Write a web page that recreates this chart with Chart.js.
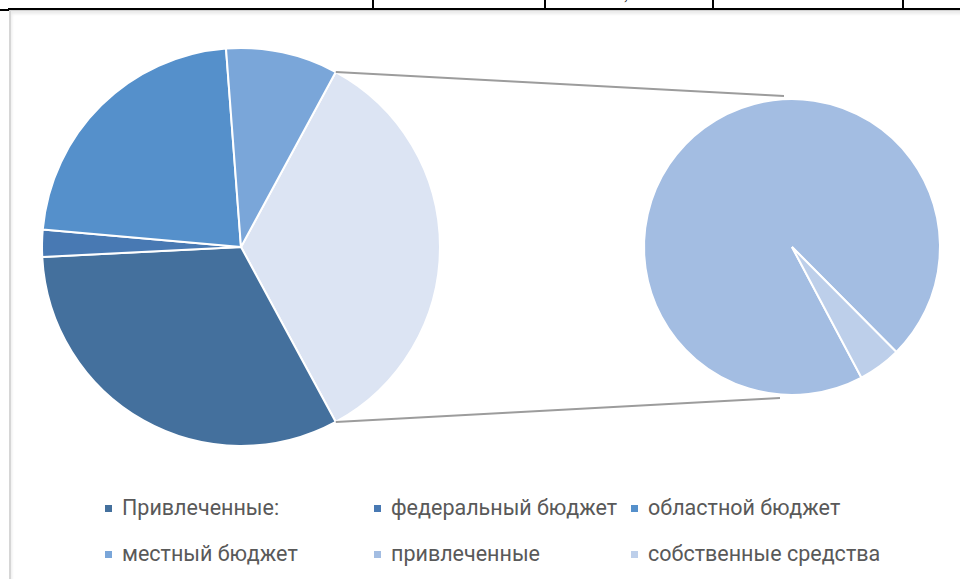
<!DOCTYPE html>
<html>
<head>
<meta charset="utf-8">
<script src="https://cdn.jsdelivr.net/npm/chart.js@4"></script>
<style>
  body { margin: 0; width: 960px; height: 579px; background: #fff; overflow: hidden; position: relative; font-family: Roboto, sans-serif; }
  .hline { position: absolute; left: 8px; top: 8px; width: 952px; height: 2px; background: #000; }
  .hline-left { position: absolute; left: 0; top: 9px; width: 9px; height: 2px; background: #000; }
  .vline { position: absolute; top: 0; width: 2px; height: 9px; background: #000; }
  .cellText { position: absolute; left: 624px; top: -14px; font-family: "Liberation Serif", serif; font-size: 16px; color: #000; }
  .frame { position: absolute; left: 9px; top: 10px; width: 970px; height: 600px; border-left: 2px solid #d6d6d6; border-top: 1px solid #d2d2d2; box-shadow: inset 1px 3px 3px rgba(0,0,0,0.08); }
  #wrap { position: absolute; left: 0; top: 0; width: 960px; height: 480px; }
  #wrap canvas { position: absolute; left: 0; top: 0; }
  #legend { position: absolute; left: 0; top: 0; }
  .item { position: absolute; font-size: 21.5px; color: #595959; white-space: nowrap; line-height: 26px; }
  .item span.box { display: inline-block; width: 7px; height: 7px; margin-right: 10px; vertical-align: middle; position: relative; top: -1px; }
</style>
</head>
<body>
<div class="hline-left"></div>
<div class="hline"></div>
<div class="vline" style="left:372px"></div>
<div class="vline" style="left:544px"></div>
<div class="vline" style="left:712px"></div>
<div class="vline" style="left:902px"></div>
<div class="cellText">,</div>
<div class="frame"></div>
<div id="wrap">
  <canvas id="mainPie" width="960" height="480"></canvas>
  <canvas id="subPie" width="960" height="480"></canvas>
</div>
<div id="legend"></div>

<script>
// données (en %)
const mainLabels = ['Привлеченные:', 'федеральный бюджет', 'областной бюджет', 'местный бюджет'];
const mainValues = [32.1, 2.2, 22.4, 9.1];
const mainColors = ['#44709d', '#4879b3', '#5590cb', '#7aa6d9'];

const subLabels = ['привлеченные', 'собственные средства'];
const subValues = [32.6, 1.6];
const subColors = ['#a3bde2', '#bdcfea'];

const otherColor = '#dce4f3';

// part "autre" = somme du second camembert
let otherValue = subValues.reduce(function(a, b){ return a + b; }, 0);
let total = otherValue + mainValues.reduce(function(a, b){ return a + b; }, 0);
let otherDeg = otherValue / total * 360;

// GRAPH1 - camembert principal
const mainChart = new Chart(document.getElementById('mainPie'), {
  type: 'pie',
  data: {
    labels: ['Другие'].concat(mainLabels),
    datasets: [{
      data: [otherValue].concat(mainValues),
      backgroundColor: [otherColor].concat(mainColors),
      borderColor: '#ffffff',
      borderWidth: 2
    }]
  },
  options: {
    responsive: false,
    animation: false,
    rotation: 90 - otherDeg / 2,
    layout: { padding: { left: 41, top: 47, right: 519, bottom: 33 } },
    plugins: { legend: { display: false }, tooltip: { enabled: false } }
  }
});

// lignes de liaison
const connectorLines = {
  id: 'connectorLines',
  beforeDatasetsDraw(chart) {
    let p = mainChart.getDatasetMeta(0).data[0].getProps(['x', 'y', 'startAngle', 'endAngle', 'outerRadius'], true);
    let s = chart.getDatasetMeta(0).data[0].getProps(['x', 'y', 'outerRadius'], true);
    let ctx = chart.ctx;
    ctx.save();
    ctx.strokeStyle = '#9c9c9c';
    ctx.lineWidth = 2;
    ctx.beginPath();
    ctx.moveTo(p.x + p.outerRadius * Math.cos(p.startAngle), p.y + p.outerRadius * Math.sin(p.startAngle));
    ctx.lineTo(s.x - 8, s.y - s.outerRadius - 3);
    ctx.moveTo(p.x + p.outerRadius * Math.cos(p.endAngle), p.y + p.outerRadius * Math.sin(p.endAngle));
    ctx.lineTo(s.x - 12, s.y + s.outerRadius + 3);
    ctx.stroke();
    ctx.restore();
  }
};

// GRAPH2 - camembert secondaire
new Chart(document.getElementById('subPie'), {
  type: 'pie',
  data: {
    labels: subLabels,
    datasets: [{
      data: subValues,
      backgroundColor: subColors,
      borderColor: '#ffffff',
      borderWidth: 2
    }]
  },
  options: {
    responsive: false,
    animation: false,
    rotation: 152,
    layout: { padding: { left: 643, top: 98, right: 19, bottom: 84 } },
    plugins: { legend: { display: false }, tooltip: { enabled: false } }
  },
  plugins: [connectorLines]
});

// légende
let legendLabels = mainLabels.concat(subLabels);
let legendColors = mainColors.concat(subColors);
let colX = [105, 374, 631];
let rowY = [495, 541];
let legend = document.getElementById('legend');
legendLabels.forEach(function(label, i){
  let div = document.createElement('div');
  div.className = 'item';
  div.style.left = colX[i % 3] + 'px';
  div.style.top = rowY[Math.floor(i / 3)] + 'px';
  div.innerHTML = '<span class="box" style="background:' + legendColors[i] + '"></span>';
  div.appendChild(document.createTextNode(label));
  legend.appendChild(div);
});
</script>
</body>
</html>
